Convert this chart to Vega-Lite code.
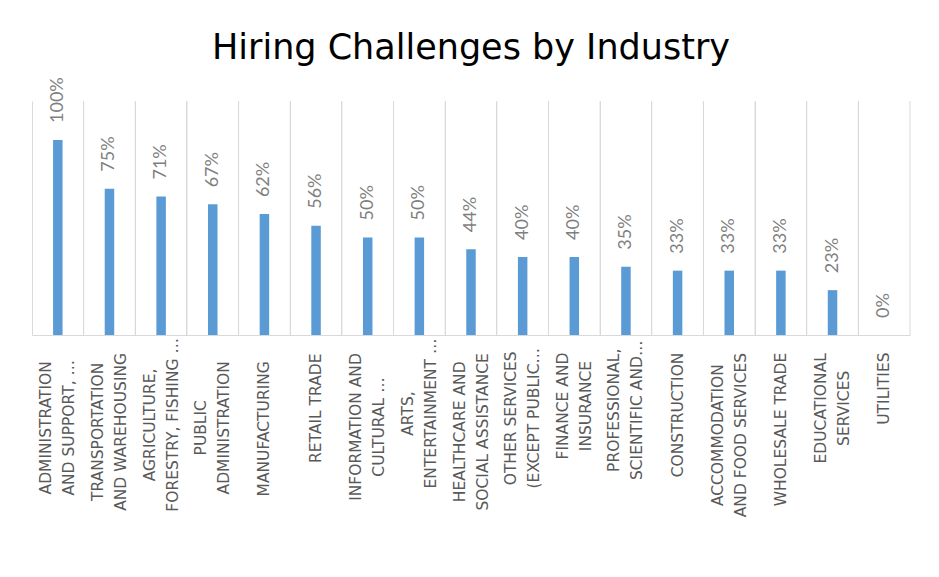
{
  "$schema": "https://vega.github.io/schema/vega-lite/v6.json",
  "autosize": "none",
  "width": 878,
  "height": 234,
  "padding": {"left": 32, "top": 101, "right": 29, "bottom": 242},
  "background": "white",
  "title": {
    "text": "Hiring Challenges by Industry",
    "font": "DejaVu Sans",
    "fontSize": 35,
    "fontWeight": "normal",
    "color": "#000000",
    "anchor": "middle",
    "offset": 11
  },
  "data": {
    "values": [
      {"industry": "ADMINISTRATION|AND SUPPORT, …", "share": 1.00},
      {"industry": "TRANSPORTATION|AND WAREHOUSING", "share": 0.75},
      {"industry": "AGRICULTURE,|FORESTRY, FISHING …", "share": 0.71},
      {"industry": "PUBLIC|ADMINISTRATION", "share": 0.67},
      {"industry": "MANUFACTURING", "share": 0.62},
      {"industry": "RETAIL TRADE", "share": 0.56},
      {"industry": "INFORMATION AND|CULTURAL …", "share": 0.50},
      {"industry": "ARTS,|ENTERTAINMENT …", "share": 0.50},
      {"industry": "HEALTHCARE AND|SOCIAL ASSISTANCE", "share": 0.44},
      {"industry": "OTHER SERVICES|(EXCEPT PUBLIC…", "share": 0.40},
      {"industry": "FINANCE AND|INSURANCE", "share": 0.40},
      {"industry": "PROFESSIONAL,|SCIENTIFIC AND…", "share": 0.35},
      {"industry": "CONSTRUCTION", "share": 0.33},
      {"industry": "ACCOMMODATION|AND FOOD SERVICES", "share": 0.33},
      {"industry": "WHOLESALE TRADE", "share": 0.33},
      {"industry": "EDUCATIONAL|SERVICES", "share": 0.23},
      {"industry": "UTILITIES", "share": 0.00}
    ]
  },
  "encoding": {
    "x": {
      "field": "industry",
      "type": "nominal",
      "sort": null,
      "scale": {"paddingInner": 0, "paddingOuter": 0},
      "axis": {
        "title": null,
        "labelExpr": "split(datum.value, '|')",
        "labelAngle": -90,
        "labelAlign": "center",
        "labelBaseline": "middle",
        "labelFont": "DejaVu Sans",
        "labelFontSize": 15.5,
        "labelColor": "#595959",
        "labelLineHeight": 23,
        "labelLimit": 0,
        "labelPadding": 100,
        "encoding": {
          "labels": {
            "dy": {
              "condition": {"test": "indexof(datum.value, '|') >= 0", "value": -11.5},
              "value": 0
            },
            "dx": {
              "condition": [
                {"test": "datum.value === 'TRANSPORTATION|AND WAREHOUSING'", "value": 3.6},
                {"test": "datum.value === 'AGRICULTURE,|FORESTRY, FISHING …'", "value": 10.6},
                {"test": "datum.value === 'MANUFACTURING'", "value": 6.7},
                {"test": "datum.value === 'RETAIL TRADE'", "value": 27.3},
                {"test": "datum.value === 'INFORMATION AND|CULTURAL …'", "value": 8.5},
                {"test": "datum.value === 'ARTS,|ENTERTAINMENT …'", "value": 22},
                {"test": "datum.value === 'HEALTHCARE AND|SOCIAL ASSISTANCE'", "value": 3.7},
                {"test": "datum.value === 'OTHER SERVICES|(EXCEPT PUBLIC…'", "value": 17.2},
                {"test": "datum.value === 'FINANCE AND|INSURANCE'", "value": 29.5},
                {"test": "datum.value === 'PROFESSIONAL,|SCIENTIFIC AND…'", "value": 25.2},
                {"test": "datum.value === 'CONSTRUCTION'", "value": 20.6},
                {"test": "datum.value === 'ACCOMMODATION|AND FOOD SERVICES'", "value": 0.4},
                {"test": "datum.value === 'WHOLESALE TRADE'", "value": 6},
                {"test": "datum.value === 'EDUCATIONAL|SERVICES'", "value": 27.2},
                {"test": "datum.value === 'UTILITIES'", "value": 46.9}
              ],
              "value": 7.7
            }
          }
        },
        "ticks": false,
        "domainColor": "#d9d9d9",
        "domainWidth": 1,
        "grid": true,
        "gridColor": "#d9d9d9",
        "gridWidth": 1,
        "bandPosition": 0
      }
    }
  },
  "layer": [
    {
      "mark": {"type": "rule", "color": "#d9d9d9", "strokeWidth": 1},
      "encoding": {
        "x": {"field": "industry", "type": "nominal", "sort": null, "bandPosition": 1},
        "y": {"datum": 0, "type": "quantitative", "scale": {"domain": [0, 1.2], "nice": false}, "axis": null},
        "y2": {"datum": 1.2}
      }
    },
    {
      "mark": {"type": "bar", "color": "#5b9bd5", "size": 9.5},
      "encoding": {
        "y": {
          "field": "share",
          "type": "quantitative",
          "scale": {"domain": [0, 1.2], "nice": false},
          "axis": null
        }
      }
    },
    {
      "mark": {
        "type": "text",
        "angle": -90,
        "align": "left",
        "baseline": "middle",
        "dx": 17,
        "font": "Lato",
        "fontSize": 18,
        "color": "#7f7f7f"
      },
      "encoding": {
        "y": {"field": "share", "type": "quantitative", "axis": null},
        "text": {"field": "share", "type": "quantitative", "format": ".0%"}
      }
    }
  ],
  "config": {"view": {"stroke": null}}
}
